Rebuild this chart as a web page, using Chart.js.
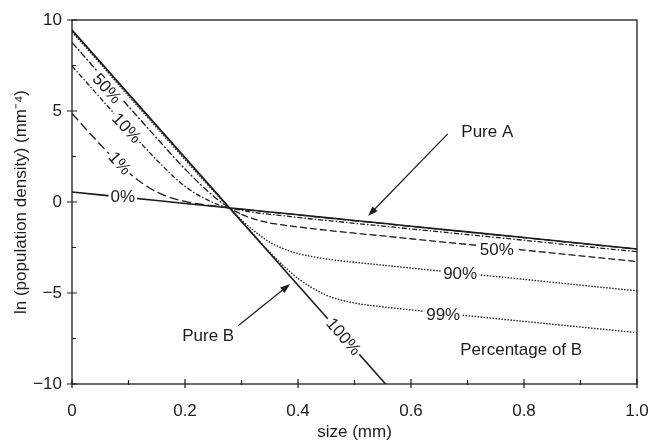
<!DOCTYPE html>
<html>
<head>
<meta charset="utf-8">
<script src="https://cdn.jsdelivr.net/npm/chart.js@4.4.1/dist/chart.umd.min.js"></script>
<style>
  html, body { margin: 0; padding: 0; background: #fff; }
  #wrap { width: 648px; height: 443px; }
</style>
</head>
<body>
<div id="wrap"><canvas id="popChart"></canvas></div>
<script>
const sizes = [0, 0.05, 0.1, 0.15, 0.2, 0.25, 0.28, 0.3, 0.32, 0.35, 0.375, 0.4, 0.45, 0.5, 0.55, 0.6, 0.7, 0.8, 0.9, 1.0];

// ln(population density) for each percentage of B
const pureA = [0.55, 0.39, 0.24, 0.08, -0.08, -0.23, -0.33, -0.39, -0.45, -0.55, -0.62, -0.70, -0.86, -1.02, -1.17, -1.33, -1.64, -1.95, -2.27, -2.58];
const pct1  = [4.86, 3.16, 1.62, 0.55, 0.03, -0.22, -0.33, -0.40, -0.46, -0.56, -0.63, -0.71, -0.87, -1.03, -1.18, -1.34, -1.65, -1.96, -2.28, -2.59];
const pct10 = [7.47, 5.72, 3.98, 2.31, 0.86, -0.04, -0.34, -0.46, -0.56, -0.68, -0.76, -0.85, -1.01, -1.17, -1.32, -1.48, -1.79, -2.10, -2.42, -2.73];
const pct50 = [8.76, 7.01, 5.25, 3.51, 1.81, 0.33, -0.35, -0.68, -0.91, -1.15, -1.27, -1.37, -1.55, -1.71, -1.86, -2.02, -2.33, -2.64, -2.96, -3.27];
const pct90 = [9.35, 7.60, 5.83, 4.09, 2.33, 0.62, -0.37, -0.99, -1.53, -2.21, -2.58, -2.83, -3.13, -3.31, -3.47, -3.63, -3.94, -4.25, -4.57, -4.88];
const pct99 = [9.44, 7.69, 5.93, 4.18, 2.42, 0.67, -0.38, -1.07, -1.75, -2.76, -3.52, -4.20, -5.12, -5.55, -5.76, -5.93, -6.25, -6.56, -6.87, -7.18];

// pure B is a straight line that leaves the frame at the bottom
const pureBSizes = [0, 0.555];
const pureB = [9.45, -10];

const xMajor = [0, 0.2, 0.4, 0.6, 0.8, 1.0];
const xMinor = [0.1, 0.3, 0.5, 0.7, 0.9];
const yMajor = [-10, -5, 0, 5, 10];
const yMinor = [-7.5, -2.5, 2.5, 7.5];

const ink = '#1c1c1c';
const fontFamily = "'Liberation Sans', Arial, Helvetica, sans-serif";
const fontSize = 17;

// text placed on the plot, in data units
const curveLabels = [
  { text: '50%', x: 0.062, y: 6.25, rot: 48, bg: true },
  { text: '10%', x: 0.097, y: 4.07, rot: 47, bg: true },
  { text: '1%', x: 0.085, y: 2.14, rot: 48, bg: true },
  { text: '0%', x: 0.09, y: 0.33, rot: 0, bg: true },
  { text: '50%', x: 0.752, y: -2.62, rot: 0, bg: true },
  { text: '90%', x: 0.687, y: -3.9, rot: 0, bg: true },
  { text: '99%', x: 0.657, y: -6.15, rot: 0, bg: true },
  { text: '100%', x: 0.481, y: -7.38, rot: 49, bg: true },
  { text: 'Pure A', x: 0.735, y: 3.9, rot: 0, bg: false },
  { text: 'Pure B', x: 0.241, y: -7.3, rot: 0, bg: false },
  { text: 'Percentage of B', x: 0.795, y: -8.08, rot: 0, bg: false }
];
const arrows = [
  { from: [0.665, 3.74], to: [0.524, -0.77] },
  { from: [0.294, -6.8], to: [0.386, -4.5] }
];

function pts(xs, ys) {
  return xs.map((x, i) => ({ x: x, y: ys[i] }));
}

const framePlugin = {
  id: 'frame',
  afterDatasetsDraw(chart) {
    const { ctx, chartArea: a, scales: { x, y } } = chart;
    ctx.save();
    ctx.strokeStyle = ink;
    ctx.lineWidth = 1.3;
    ctx.strokeRect(a.left, a.top, a.right - a.left, a.bottom - a.top);

    ctx.lineWidth = 1.2;
    ctx.beginPath();
    yMajor.forEach(v => {
      const py = y.getPixelForValue(v);
      ctx.moveTo(a.left - 5, py); ctx.lineTo(a.left + 5, py);
    });
    yMinor.forEach(v => {
      const py = y.getPixelForValue(v);
      ctx.moveTo(a.left, py); ctx.lineTo(a.left + 4, py);
    });
    xMajor.forEach(v => {
      const px = x.getPixelForValue(v);
      ctx.moveTo(px, a.bottom + 4); ctx.lineTo(px, a.bottom - 5);
    });
    xMinor.forEach(v => {
      const px = x.getPixelForValue(v);
      ctx.moveTo(px, a.bottom + 1); ctx.lineTo(px, a.bottom - 4);
    });
    ctx.stroke();

    // arrows
    arrows.forEach(ar => {
      const x1 = x.getPixelForValue(ar.from[0]), y1 = y.getPixelForValue(ar.from[1]);
      const x2 = x.getPixelForValue(ar.to[0]), y2 = y.getPixelForValue(ar.to[1]);
      const ang = Math.atan2(y2 - y1, x2 - x1);
      ctx.beginPath();
      ctx.moveTo(x1, y1);
      ctx.lineTo(x2 - 8 * Math.cos(ang), y2 - 8 * Math.sin(ang));
      ctx.stroke();
      ctx.beginPath();
      ctx.moveTo(x2, y2);
      ctx.lineTo(x2 - 10 * Math.cos(ang) + 3.5 * Math.sin(ang), y2 - 10 * Math.sin(ang) - 3.5 * Math.cos(ang));
      ctx.lineTo(x2 - 10 * Math.cos(ang) - 3.5 * Math.sin(ang), y2 - 10 * Math.sin(ang) + 3.5 * Math.cos(ang));
      ctx.closePath();
      ctx.fillStyle = ink;
      ctx.fill();
    });

    // labels
    ctx.font = fontSize + 'px ' + fontFamily;
    ctx.textAlign = 'center';
    ctx.textBaseline = 'middle';
    curveLabels.forEach(l => {
      const px = x.getPixelForValue(l.x), py = y.getPixelForValue(l.y);
      ctx.save();
      ctx.translate(px, py);
      ctx.rotate(l.rot * Math.PI / 180);
      if (l.bg) {
        const w = ctx.measureText(l.text).width + 4;
        ctx.fillStyle = '#fff';
        ctx.fillRect(-w / 2, -7, w, 14);
      }
      ctx.fillStyle = ink;
      ctx.fillText(l.text, 0, 1);
      ctx.restore();
    });
    ctx.restore();
  }
};

const solid = { borderColor: ink, borderWidth: 1.6, pointRadius: 0, showLine: true, fill: false };
const curve = { borderColor: ink, borderWidth: 1.3, pointRadius: 0, showLine: true, fill: false, cubicInterpolationMode: 'monotone' };

const ctx = document.getElementById('popChart').getContext('2d');
new Chart(ctx, {
  type: 'scatter',
  data: {
    datasets: [
      Object.assign({ label: '0%', data: pts(sizes, pureA) }, solid),
      Object.assign({ label: '100%', data: pts(pureBSizes, pureB) }, solid),
      Object.assign({ label: '1%', data: pts(sizes, pct1), borderDash: [9, 4] }, curve),
      Object.assign({ label: '10%', data: pts(sizes, pct10), borderDash: [5, 2, 1.5, 2] }, curve),
      Object.assign({
        label: '50%', data: pts(sizes, pct50),
        segment: { borderDash: c => c.p0.parsed.x < 0.3 ? [7, 2, 2, 2] : [7, 3] }
      }, curve),
      Object.assign({ label: '90%', data: pts(sizes, pct90), borderDash: [1.5, 1.5] }, curve, { borderWidth: 1.4 }),
      Object.assign({ label: '99%', data: pts(sizes, pct99), borderDash: [1.5, 1.5] }, curve, { borderWidth: 1.4 })
    ]
  },
  options: {
    responsive: true,
    maintainAspectRatio: false,
    animation: false,
    layout: { padding: { top: 20, right: 11, left: 0, bottom: 0 } },
    plugins: { legend: { display: false }, tooltip: { enabled: false } },
    scales: {
      x: {
        type: 'linear', min: 0, max: 1,
        grid: { display: false, drawTicks: false },
        border: { display: false },
        ticks: {
          stepSize: 0.2, padding: 17, color: ink, maxRotation: 0, autoSkip: false,
          font: { family: fontFamily, size: fontSize },
          callback: v => v === 0 ? '0' : v.toFixed(1)
        },
        title: {
          display: true, text: 'size (mm)', color: ink,
          font: { family: fontFamily, size: fontSize }, padding: { top: 0, bottom: 0 }
        },
        afterFit: s => { s.height = 59; s.paddingRight = 0; s.paddingLeft = 0; }
      },
      y: {
        type: 'linear', min: -10, max: 10,
        grid: { display: false, drawTicks: false },
        border: { display: false },
        ticks: {
          stepSize: 5, padding: 10, color: ink,
          font: { family: fontFamily, size: fontSize },
          callback: v => String(v).replace('-', '\u2212')
        },
        title: {
          display: true, text: 'ln (population density) (mm\u207B\u2074)', color: ink,
          font: { family: fontFamily, size: fontSize }, padding: { top: 11, bottom: 0 }
        },
        afterFit: s => { s.width = 72; s.paddingTop = 0; s.paddingBottom = 0; }
      }
    }
  },
  plugins: [framePlugin]
});
</script>
</body>
</html>
